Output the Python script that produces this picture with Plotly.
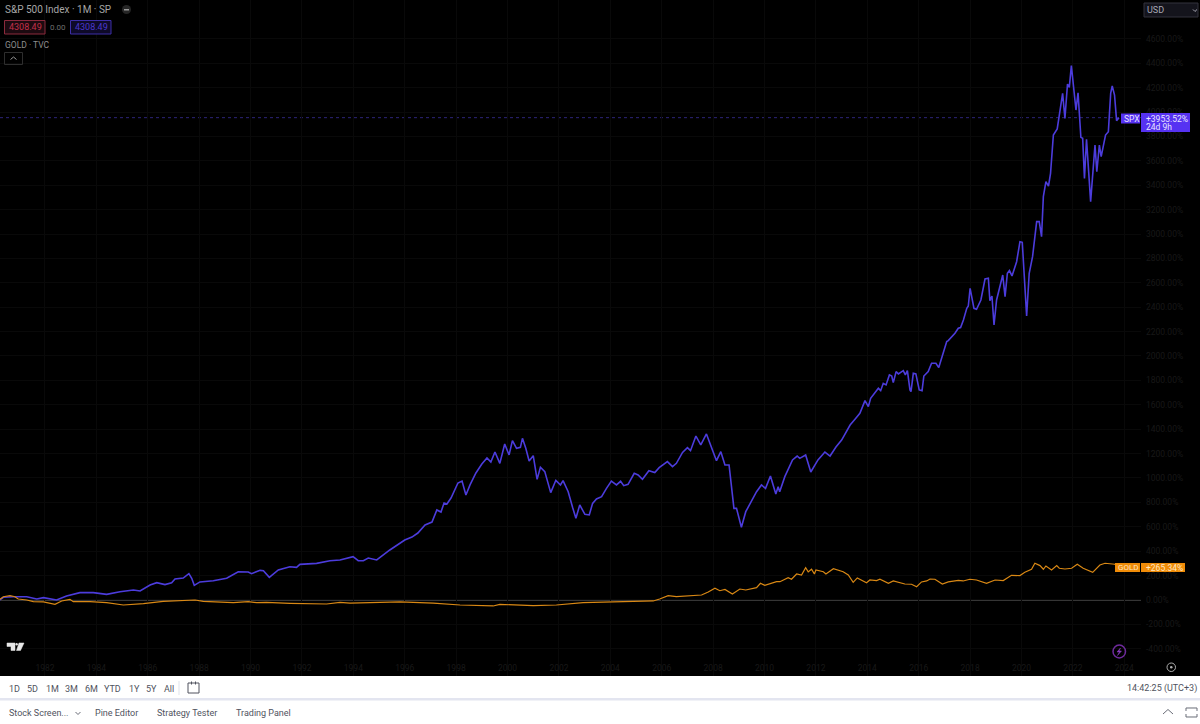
import plotly.graph_objects as go

# values (% change since start, x in fractional years)
spx_years = [1980.25, 1980.38, 1980.77, 1981.29, 1981.68, 1981.94, 1982.45, 1982.84, 1983.36, 1983.88,
             1984.40, 1984.92, 1985.44, 1985.70, 1986.09, 1986.35, 1986.67, 1986.93, 1987.06, 1987.38,
             1987.60, 1987.71, 1987.81, 1988.03, 1988.55, 1989.07, 1989.52, 1989.91, 1990.04, 1990.37,
             1990.50, 1990.73, 1991.08, 1991.40, 1991.53, 1991.79, 1991.92, 1992.57, 1993.09, 1993.48,
             1993.99, 1994.19, 1994.39, 1994.58, 1994.91, 1995.42, 1996.00, 1996.28, 1996.51, 1996.79,
             1997.06, 1997.25, 1997.41, 1997.53, 1997.64, 1997.80, 1998.07, 1998.23, 1998.38, 1998.54,
             1998.77, 1999.00, 1999.20, 1999.35, 1999.51, 1999.70, 1999.89, 2000.06, 2000.19, 2000.35,
             2000.50, 2000.58, 2000.71, 2000.84, 2001.00, 2001.15, 2001.28, 2001.45, 2001.68, 2001.88,
             2002.06, 2002.16, 2002.36, 2002.53, 2002.66, 2002.81, 2003.01, 2003.18, 2003.31, 2003.46,
             2003.66, 2003.85, 2004.04, 2004.24, 2004.40, 2004.52, 2004.69, 2004.93, 2005.08, 2005.25,
             2005.50, 2005.73, 2005.90, 2006.22, 2006.42, 2006.57, 2006.81, 2007.00, 2007.12, 2007.33,
             2007.52, 2007.74, 2007.94, 2008.13, 2008.30, 2008.46, 2008.62, 2008.81, 2008.91, 2009.10,
             2009.27, 2009.69, 2009.88, 2010.04, 2010.23, 2010.44, 2010.53, 2010.59, 2010.79, 2011.09,
             2011.27, 2011.37, 2011.60, 2011.80, 2012.08, 2012.35, 2012.55, 2012.78, 2013.00, 2013.33,
             2013.52, 2013.71, 2013.91, 2014.04, 2014.13, 2014.43, 2014.52, 2014.62, 2014.73, 2014.86,
             2014.95, 2015.01, 2015.12, 2015.21, 2015.40, 2015.48, 2015.56, 2015.66, 2015.70, 2015.79,
             2015.89, 2016.02, 2016.13, 2016.20, 2016.37, 2016.50, 2016.67, 2016.78, 2017.09, 2017.15,
             2017.41, 2017.54, 2017.63, 2017.74, 2017.87, 2017.93, 2018.00, 2018.15, 2018.25, 2018.42,
             2018.58, 2018.71, 2018.77, 2018.85, 2018.93, 2019.03, 2019.27, 2019.36, 2019.45, 2019.53,
             2019.63, 2019.81, 2019.94, 2020.03, 2020.20, 2020.30, 2020.43, 2020.59, 2020.69, 2020.78,
             2020.85, 2020.95, 2021.05, 2021.13, 2021.24, 2021.39, 2021.60, 2021.69, 2021.79, 2021.86,
             2021.94, 2022.12, 2022.20, 2022.31, 2022.38, 2022.45, 2022.53, 2022.69, 2022.86, 2022.93,
             2023.03, 2023.10, 2023.27, 2023.38, 2023.47, 2023.53, 2023.62, 2023.70, 2023.79]
spx_values = [0, 22, 27, 27, 8, 19, 0, 33, 60, 60,
              46, 68, 82, 74, 123, 142, 126, 142, 172, 180,
              216, 178, 120, 148, 158, 178, 232, 230, 216, 243,
              240, 186, 246, 265, 273, 268, 292, 300, 322, 328,
              355, 322, 322, 344, 328, 410, 492, 516, 549, 615,
              639, 738, 721, 795, 787, 836, 959, 975, 861, 943,
              1041, 1115, 1164, 1131, 1213, 1120, 1279, 1189, 1306, 1243,
              1251, 1325, 1243, 1139, 1183, 989, 1088, 1052, 880, 981,
              943, 978, 888, 760, 670, 779, 702, 697, 792, 828,
              847, 915, 975, 943, 973, 937, 948, 1038, 1025, 989,
              1060, 1044, 1085, 1134, 1093, 1120, 1210, 1249, 1224, 1344,
              1271, 1361, 1257, 1142, 1216, 1107, 1107, 751, 751, 596,
              724, 888, 943, 915, 1016, 869, 929, 888, 1011, 1148,
              1180, 1161, 1189, 1049, 1148, 1213, 1180, 1254, 1311, 1434,
              1481, 1530, 1634, 1585, 1653, 1735, 1716, 1776, 1763, 1845,
              1836, 1782, 1872, 1853, 1880, 1845, 1880, 1722, 1708, 1858,
              1853, 1722, 1716, 1836, 1872, 1940, 1940, 1905, 2118, 2126,
              2186, 2227, 2233, 2295, 2391, 2410, 2555, 2391, 2383, 2459,
              2631, 2637, 2454, 2492, 2254, 2459, 2664, 2487, 2678, 2700,
              2656, 2773, 2937, 2932, 2328, 2678, 2814, 3101, 3101, 2978,
              3306, 3429, 3393, 3497, 3811, 3861, 4153, 3948, 4229, 4202,
              4380, 4016, 4158, 3792, 3784, 3456, 3776, 3265, 3729, 3511,
              3729, 3634, 3811, 3839, 4153, 4213, 4139, 3929, 3953.52]

gold_years = [1980.25, 1980.38, 1980.64, 1980.83, 1980.96, 1981.29, 1981.55, 1981.94, 1982.39, 1982.65,
              1982.97, 1983.10, 1983.75, 1984.40, 1985.05, 1985.83, 1986.60, 1987.25, 1987.84, 1988.16,
              1989.33, 1989.91, 1990.24, 1990.62, 1991.53, 1992.96, 1993.48, 1993.87, 1995.81, 1997.11,
              1998.15, 1999.44, 1999.70, 2001.00, 2001.90, 2002.94, 2003.85, 2004.89, 2005.67, 2005.92,
              2006.25, 2006.57, 2007.09, 2007.55, 2007.81, 2008.07, 2008.26, 2008.46, 2008.75, 2009.04,
              2009.27, 2009.69, 2009.84, 2010.01, 2010.47, 2010.60, 2010.92, 2011.05, 2011.25, 2011.44,
              2011.60, 2011.70, 2011.83, 2011.94, 2012.00, 2012.29, 2012.39, 2012.68, 2013.06, 2013.26,
              2013.45, 2013.61, 2013.97, 2014.10, 2014.36, 2014.49, 2014.82, 2015.01, 2015.46, 2015.72,
              2015.92, 2016.11, 2016.31, 2016.44, 2016.63, 2016.92, 2017.15, 2017.54, 2017.73, 2017.99,
              2018.25, 2018.64, 2018.97, 2019.29, 2019.61, 2019.94, 2020.13,
              2020.39, 2020.52, 2020.72, 2020.85, 2020.95, 2021.17, 2021.37, 2021.47, 2021.69, 2021.95,
              2022.17, 2022.40, 2022.77, 2023.05, 2023.25, 2023.63, 2023.79]
gold_values = [5, 27, 36, 27, 8, 0, -14, -16, -36, -8,
               5, -14, -14, -22, -41, -30, -11, -5, 0, -11,
               -22, -14, -22, -19, -27, -33, -19, -25, -16, -25,
               -41, -49, -36, -46, -41, -22, -16, -8, -8, 8,
               36, 27, 36, 41, 66, 96, 76, 87, 49, 90,
               82, 101, 137, 120, 150, 150, 183, 170, 213, 205,
               265, 230, 252, 213, 246, 232, 213, 257, 232, 205,
               145, 181, 142, 164, 159, 170, 137, 156, 131, 129,
               109, 148, 156, 172, 170, 131, 148, 161, 156, 170,
               164, 137, 164, 159, 202, 200, 227,
               252, 301, 282, 252, 279, 246, 282, 260, 254, 260,
               293, 260, 227, 287, 301, 293, 265.34]

x_ticks = list(range(1982, 2026, 2))
y_ticks = list(range(-400, 4800, 200))

BLUE = "#4c3cdc"
TAG_BLUE = "#5632f2"
ORANGE = "#d98814"
TAG_ORANGE = "#f08c08"
FONT = "Roboto"
W, H = 1200, 724


def px(x):
    return x / W


def py(y):
    return 1 - y / H


def box(x0, y0, x1, y1, fill=None, line=None, width=1, kind="rect"):
    return dict(type=kind, xref="paper", yref="paper", x0=px(x0), x1=px(x1), y0=py(y0), y1=py(y1),
                fillcolor=fill or "rgba(0,0,0,0)", line=dict(color=line or "rgba(0,0,0,0)", width=width if line else 0))


def seg(points, color, width=1, fill=None):
    path = "M " + " L ".join(f"{px(a):.5f},{py(b):.5f}" for a, b in points)
    if fill:
        path += " Z"
    return dict(type="path", xref="paper", yref="paper", path=path, fillcolor=fill or "rgba(0,0,0,0)",
                line=dict(color=color, width=width))


def label(x, y, text, color, size=9, anchor="left"):
    return dict(xref="paper", yref="paper", x=px(x), y=py(y), text=text, showarrow=False, xanchor=anchor,
                yanchor="middle", font=dict(family=FONT, size=size, color=color),
                borderpad=0, borderwidth=0)


fig = go.Figure()
fig.add_trace(go.Scatter(x=spx_years, y=spx_values, mode="lines", name="SPX",
                         line=dict(color=BLUE, width=1.6)))
fig.add_trace(go.Scatter(x=gold_years, y=gold_values, mode="lines", name="GOLD",
                         line=dict(color=ORANGE, width=1.2)))

shapes = [
    # bottom toolbar
    box(0, 676, W, 724, fill="#ffffff"),
    box(0, 698, W, 700.5, fill="#e3e5f0"),
    box(178.5, 681, 179.5, 695, fill="#e0e3eb"),
    # zero line and last price line, both at chart values
    dict(type="line", xref="x", yref="y", x0=spx_years[0], x1=2024.65, y0=0, y1=0,
         line=dict(color="#6a6a6a", width=1.2), layer="below"),
    dict(type="line", xref="x", yref="y", x0=spx_years[0], x1=2024.65, y0=spx_values[-1], y1=spx_values[-1],
         line=dict(color="#2c2478", width=1, dash="dot"), layer="below"),
    # price tags
    box(1121, 113.5, 1140, 123.5, fill=TAG_BLUE),
    box(1141, 113, 1190, 132, fill=TAG_BLUE),
    box(1115, 563, 1140, 572, fill=TAG_ORANGE),
    box(1141, 563, 1185, 572, fill=TAG_ORANGE),
    # legend boxes
    box(4.5, 20.5, 45, 34, fill="#1c0a10", line="#8c2a3c"),
    box(70.5, 20.5, 111, 34, fill="#0e0a28", line="#3c2ea8"),
    box(4.5, 52.5, 22.5, 64.5, line="#2e2e2e"),
    seg([(10.5, 59.5), (13.5, 57), (16.5, 59.5)], "#9a9a9a", 1),
    box(122, 5, 131, 14, fill="#262626", kind="circle"),
    box(124, 9, 129, 10.5, fill="#999999"),
    # currency box
    box(1144, 3, 1198, 17, fill="#14141c", line="#33333c"),
    seg([(1193, 9.5), (1195, 11.5), (1197, 9.5)], "#a8a8b4", 1),
    # tradingview logo
    seg([(7, 643), (15, 643), (15, 650.5), (11, 650.5), (11, 646.5), (7, 646.5)], "#e8e8e8", 0.5, fill="#e8e8e8"),
    box(15.5, 643, 17.8, 645.4, fill="#e8e8e8", kind="circle"),
    seg([(19, 643), (24, 643), (20.5, 650.5), (16.5, 650.5)], "#e8e8e8", 0.5, fill="#e8e8e8"),
    # lightning badge and settings button
    box(1113, 645, 1125.5, 658, line="#6e2a9c", width=1.5, kind="circle"),
    seg([(1120.5, 648), (1117, 652), (1119.5, 652), (1117.5, 655.5), (1121.5, 651), (1119, 651)],
        "#8a3cc0", 0.5, fill="#8a3cc0"),
    box(1167, 663, 1175.5, 671.5, line="#b0b0b0", width=1, kind="circle"),
    box(1170, 666, 1172.5, 668.5, fill="#b0b0b0", kind="circle"),
    # calendar icon
    box(188, 683, 199, 693, line="#50535e", width=1),
    box(191, 681.5, 192, 684.5, fill="#50535e"),
    box(195, 681.5, 196, 684.5, fill="#50535e"),
    # bottom right icons
    seg([(1163, 714), (1168, 709.5), (1173, 714)], "#6a6d78", 1),
    seg([(1186, 711), (1186, 708), (1197, 708), (1197, 711)], "#6a6d78", 1),
    seg([(1186, 714), (1186, 717), (1197, 717), (1197, 714)], "#6a6d78", 1),
    seg([(75.5, 712), (78, 714.5), (80.5, 712)], "#6a6d78", 1),
]

annotations = [
    label(5, 9.5, "S&amp;P 500 Index · 1M · SP", "#a6a6a6", 10),
    label(9, 27.5, "4308.49", "#c2304a", 9),
    label(50, 27.5, "0.00", "#6e6e6e", 8),
    label(75, 27.5, "4308.49", "#4a38cc", 9),
    label(5, 44.5, "GOLD · TVC", "#8e8e8e", 8.5),
    label(1147, 10.5, "USD", "#a8a8b4", 9),
    label(1124, 118.5, "SPX", "#e8e4ff", 8.5),
    label(1146, 118.5, "+3953.52%", "#e8e4ff", 8.5),
    label(1146, 127, "24d 9h", "#e8e4ff", 8.5),
    label(1117.5, 567.5, "GOLD", "#ffe6c0", 8),
    label(1146, 567.5, "+265.34%", "#ffe6c0", 8.5),
    label(1197, 688.5, "14:42:25 (UTC+3)", "#50535e", 9, anchor="right"),
]
for x, text in [(9, "1D"), (27, "5D"), (46, "1M"), (65, "3M"), (85, "6M"), (104, "YTD"),
                (129, "1Y"), (146, "5Y"), (164, "All")]:
    annotations.append(label(x, 688.5, text, "#50535e", 9))
for x, text in [(9, "Stock Screen..."), (95, "Pine Editor"), (157, "Strategy Tester"), (236, "Trading Panel")]:
    annotations.append(label(x, 713, text, "#50535e", 9))

fig.update_layout(
    width=W,
    height=H,
    autosize=False,
    margin=dict(l=0, r=0, t=0, b=0),
    paper_bgcolor="#000000",
    plot_bgcolor="#000000",
    showlegend=False,
    hovermode=False,
    font=dict(family=FONT),
    shapes=shapes,
    annotations=annotations,
    xaxis=dict(
        domain=[0, 1141 / W],
        range=[1980.25, 2024.65],
        tickvals=x_ticks,
        ticktext=[str(v) for v in x_ticks],
        ticklabelposition="inside",
        ticks="",
        showline=False,
        zeroline=False,
        gridcolor="#090909",
        tickfont=dict(family=FONT, size=8.5, color="#181818"),
        tickangle=0,
        anchor="y",
    ),
    yaxis=dict(
        domain=[1 - 676 / H, 1],
        range=[-623, 4918],
        side="right",
        tickvals=y_ticks,
        ticktext=[f"{v:.2f}%" for v in y_ticks],
        ticks="",
        showline=False,
        zeroline=False,
        gridcolor="#090909",
        tickfont=dict(family=FONT, size=8.5, color="#181818"),
        anchor="x",
        ticklabelstandoff=4,
    ),
)

fig.write_html("out.html", config={"displayModeBar": False},
               post_script="document.body.style.margin='0';document.body.style.background='#000';")
